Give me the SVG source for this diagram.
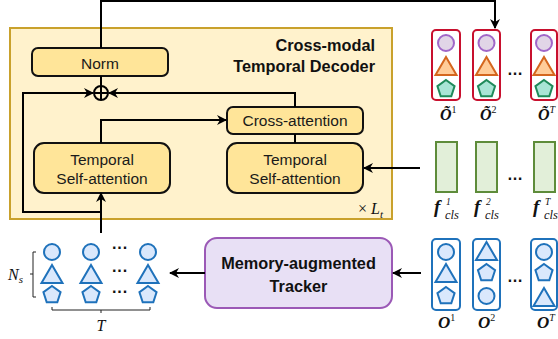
<svg xmlns="http://www.w3.org/2000/svg" width="558" height="339" viewBox="0 0 558 339">
<style>
.lbl{font-family:"Liberation Sans",Arial,sans-serif;font-size:15.5px;fill:#1a1a1a;text-anchor:middle}
.bold{font-family:"Liberation Sans",Arial,sans-serif;font-size:16.3px;font-weight:bold;fill:#111}
.math{font-family:"Liberation Serif","Times New Roman",serif;font-style:italic;fill:#111}
.blk{fill:#ffe599;stroke:#111;stroke-width:2}
.conn{fill:none;stroke:#000;stroke-width:2}
.thin{fill:none;stroke:#222;stroke-width:1}
.pu{fill:#e1d5e7;stroke:#a066c8;stroke-width:2}
.or{fill:#ffcc99;stroke:#d4661e;stroke-width:2}
.te{fill:#a9e5d6;stroke:#1f8a5a;stroke-width:2}
.bl{fill:#dae8fc;stroke:#1f72bb;stroke-width:2}
.redbox{fill:#fff;stroke:#c8102e;stroke-width:2}
.bluebox{fill:#fff;stroke:#1f72bb;stroke-width:2}
.grbox{fill:#e2efd9;stroke:#5e8c3a;stroke-width:2}
.dots{font-family:"Liberation Sans",Arial,sans-serif;font-size:16px;font-weight:bold;fill:#111;text-anchor:middle}
</style>
<defs>
<marker id="arr" markerUnits="userSpaceOnUse" markerWidth="10" markerHeight="10" refX="9" refY="5" orient="auto">
<path d="M0,0 L10,5 L0,10 L3,5 z" fill="#000"/>
</marker>
<circle id="circ" r="8"/>
<polygon id="tri" points="0,-10 10.5,8 -10.5,8"/>
<polygon id="pent" points="0,-9 8.56,-2.78 5.29,7.28 -5.29,7.28 -8.56,-2.78"/>
</defs>

<g id="decoder">
<rect x="10" y="28" width="382" height="191" fill="#fff2cc" stroke="#c9a12c" stroke-width="2"/>
<text class="bold" x="375" y="51" text-anchor="end">Cross-modal</text>
<text class="bold" x="375" y="72" text-anchor="end">Temporal Decoder</text>
<text class="math" x="357" y="214" font-size="16" font-style="normal">×</text>
<text class="math" x="371" y="214" font-size="16">L<tspan font-size="11" dy="4">t</tspan></text>
</g>

<g id="norm">
<rect class="blk" x="32" y="48" width="136" height="28" rx="6"/>
<text class="lbl" x="100" y="69" font-size="16">Norm</text>
</g>

<g id="add">
<circle cx="101" cy="93" r="7" fill="none" stroke="#000" stroke-width="2"/>
<path d="M94,93 H108 M101,86 V100" stroke="#000" stroke-width="2"/>
</g>

<g id="tsa-left">
<rect class="blk" x="34" y="143" width="136" height="50" rx="10"/>
<text class="lbl" x="102" y="165">Temporal</text>
<text class="lbl" x="102" y="184">Self-attention</text>
</g>

<g id="cross-attn">
<rect class="blk" x="227" y="107" width="136" height="27" rx="6"/>
<text class="lbl" x="295" y="126">Cross-attention</text>
</g>

<g id="tsa-right">
<rect class="blk" x="227" y="143" width="136" height="50" rx="10"/>
<text class="lbl" x="295" y="165">Temporal</text>
<text class="lbl" x="295" y="184">Self-attention</text>
</g>

<g id="tracker">
<rect x="205" y="238" width="187" height="70" rx="12" fill="#e8e0f5" stroke="#9b59b6" stroke-width="2"/>
<text class="bold" x="298.5" y="269" text-anchor="middle">Memory-augmented</text>
<text class="bold" x="298.5" y="292" text-anchor="middle">Tracker</text>
</g>

<g id="refined-queries">
<rect class="redbox" x="432" y="30" width="28" height="70" rx="4"/>
<use href="#circ" class="pu" x="446" y="43"/>
<use href="#tri" class="or" x="446" y="67"/>
<use href="#pent" class="te" x="446" y="89"/>
<rect class="redbox" x="473" y="30" width="27" height="70" rx="4"/>
<use href="#circ" class="pu" x="486.5" y="43"/>
<use href="#tri" class="or" x="486.5" y="67"/>
<use href="#pent" class="te" x="486.5" y="89"/>
<text class="dots" x="515" y="75">…</text>
<rect class="redbox" x="531" y="30" width="26" height="70" rx="4"/>
<use href="#circ" class="pu" x="544" y="43"/>
<use href="#tri" class="or" x="544" y="67"/>
<use href="#pent" class="te" x="544" y="89"/>
<text class="math" x="440" y="120" font-size="16" font-weight="bold">Õ<tspan font-size="10" font-style="normal" font-weight="normal" dy="-7">1</tspan></text>
<text class="math" x="480" y="120" font-size="16" font-weight="bold">Õ<tspan font-size="10" font-style="normal" font-weight="normal" dy="-7">2</tspan></text>
<text class="math" x="538" y="120" font-size="16" font-weight="bold">Õ<tspan font-size="10" font-weight="normal" dy="-7">T</tspan></text>
</g>

<g id="cls-features">
<rect class="grbox" x="436" y="142" width="21" height="50"/>
<rect class="grbox" x="476" y="142" width="21" height="50"/>
<text class="dots" x="515" y="180">…</text>
<rect class="grbox" x="534" y="142" width="21" height="50"/>
<text class="math" x="434" y="213" font-size="19" font-weight="bold">f</text>
<text class="math" x="446" y="205" font-size="9.5" font-style="normal">1</text>
<text class="math" x="445" y="219" font-size="12.5">cls</text>
<text class="math" x="474" y="213" font-size="19" font-weight="bold">f</text>
<text class="math" x="486" y="205" font-size="9.5" font-style="normal">2</text>
<text class="math" x="485" y="219" font-size="12.5">cls</text>
<text class="math" x="533" y="213" font-size="19" font-weight="bold">f</text>
<text class="math" x="545" y="205" font-size="9.5">T</text>
<text class="math" x="544" y="219" font-size="12.5">cls</text>
</g>

<g id="object-queries">
<rect class="bluebox" x="432" y="239" width="28" height="71" rx="4"/>
<use href="#circ" class="bl" x="446" y="252"/>
<use href="#tri" class="bl" x="446" y="274"/>
<use href="#pent" class="bl" x="446" y="296"/>
<rect class="bluebox" x="473" y="239" width="27" height="71" rx="4"/>
<use href="#tri" class="bl" x="486.5" y="252"/>
<use href="#pent" class="bl" x="486.5" y="273"/>
<use href="#circ" class="bl" x="486.5" y="296"/>
<text class="dots" x="515" y="282">…</text>
<rect class="bluebox" x="531" y="239" width="26" height="71" rx="4"/>
<use href="#circ" class="bl" x="544" y="252"/>
<use href="#pent" class="bl" x="544" y="273"/>
<use href="#tri" class="bl" x="544" y="298"/>
<text class="math" x="438" y="328" font-size="17" font-weight="bold">O<tspan font-size="10" font-style="normal" font-weight="normal" dy="-7">1</tspan></text>
<text class="math" x="478" y="328" font-size="17" font-weight="bold">O<tspan font-size="10" font-style="normal" font-weight="normal" dy="-7">2</tspan></text>
<text class="math" x="537" y="328" font-size="17" font-weight="bold">O<tspan font-size="10" font-weight="normal" dy="-7">T</tspan></text>
</g>

<g id="track-grid">
<use href="#circ" class="bl" x="52" y="252"/>
<use href="#tri" class="bl" x="52" y="275"/>
<use href="#pent" class="bl" x="52" y="295"/>
<use href="#circ" class="bl" x="91" y="252"/>
<use href="#tri" class="bl" x="91" y="275"/>
<use href="#pent" class="bl" x="91" y="295"/>
<use href="#circ" class="bl" x="148" y="252"/>
<use href="#tri" class="bl" x="148" y="275"/>
<use href="#pent" class="bl" x="148" y="295"/>
<text class="dots" x="120" y="253" font-size="12" font-weight="normal">···</text>
<text class="dots" x="120" y="276" font-size="12" font-weight="normal">···</text>
<text class="dots" x="120" y="297" font-size="12" font-weight="normal">···</text>
<path class="thin" d="M36,252 H33 V297 H36 M33,274 H30"/>
<path class="thin" d="M52,307 V310 H150 V307 M101,310 V313"/>
<text class="math" x="8" y="280" font-size="16">N<tspan font-size="11" dy="3">s</tspan></text>
<text class="math" x="101" y="331" font-size="16" text-anchor="middle">T</text>
</g>

<g id="connectors">
<path class="conn" d="M101,48 V1 H495 V28" marker-end="url(#arr)"/>
<path class="conn" d="M101,76 V86"/>
<path class="conn" d="M101,212 H23 V93 H93" marker-end="url(#arr)"/>
<path class="conn" d="M295,107 V93 H109" marker-end="url(#arr)"/>
<path class="conn" d="M101,233 V193" marker-end="url(#arr)"/>
<path class="conn" d="M101,143 V120 H226" marker-end="url(#arr)"/>
<path class="conn" d="M295,134 V143"/>
<path class="conn" d="M420,168 H364" marker-end="url(#arr)"/>
<path class="conn" d="M421,273 H393" marker-end="url(#arr)"/>
<path class="conn" d="M205,273 H170" marker-end="url(#arr)"/>
</g>
</svg>
